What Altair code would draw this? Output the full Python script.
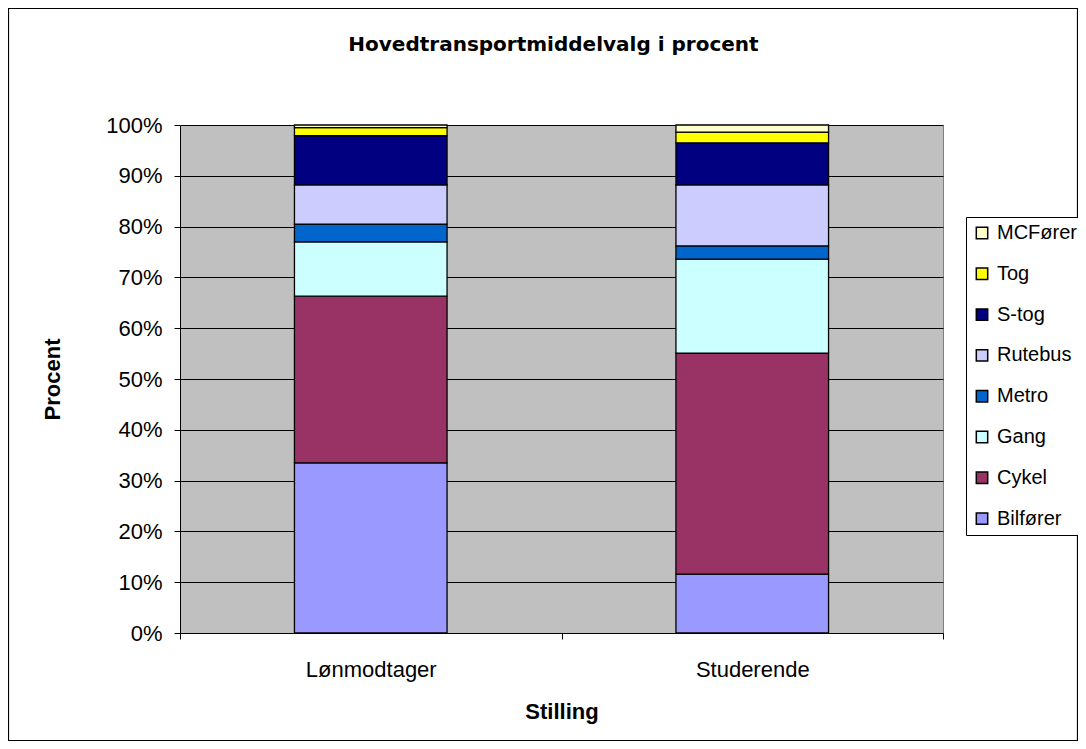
import altair as alt
import pandas as pd

# ---- data ----
categories = ["Lønmodtager", "Studerende"]
modes = ["Bilfører", "Cykel", "Gang", "Metro", "Rutebus", "S-tog", "Tog", "MCFører"]
lonmodtager = [33.5, 32.8, 10.7, 3.5, 7.7, 9.7, 1.6, 0.5]
studerende = [11.6, 43.5, 18.5, 2.6, 12.0, 8.3, 2.1, 1.4]
colors = ["#9999FF", "#993366", "#CCFFFF", "#0066CC", "#CCCCFF", "#000080", "#FFFF00", "#FFFFCC"]
y_ticks = [0, 10, 20, 30, 40, 50, 60, 70, 80, 90, 100]

rows = []
for cat, vals in zip(categories, [lonmodtager, studerende]):
    for i, (m, v) in enumerate(zip(modes, vals)):
        rows.append({"Stilling": cat, "Transportmiddel": m, "Procent": v, "rank": i})
df = pd.DataFrame(rows)

legend_order = modes[::-1]
legend_colors = colors[::-1]

W, H = 763, 508

bars = alt.Chart(df).mark_bar(
    stroke="black", strokeWidth=1.3, width=alt.RelativeBandSize(0.4)
).encode(
    x=alt.X(
        "Stilling:N", sort=categories,
        scale=alt.Scale(paddingInner=0, paddingOuter=0),
        axis=alt.Axis(
            title="Stilling", labelAngle=0, tickBand="extent", tickSize=6,
            labelPadding=20, titleX=W / 2, titleY=78, titleBaseline="middle",
            titleAlign="center",
        ),
    ),
    y=alt.Y(
        "Procent:Q", stack="zero",
        scale=alt.Scale(domain=[0, 100], nice=False),
        axis=alt.Axis(
            values=y_ticks, labelExpr="datum.value + '%'", title="Procent",
            grid=True, tickSize=6, labelPadding=12,
            titleX=-128, titleY=H / 2, titleAlign="center", titleBaseline="middle",
            titleAngle=-90,
        ),
    ),
    color=alt.Color(
        "Transportmiddel:N",
        scale=alt.Scale(domain=legend_order, range=legend_colors),
        legend=alt.Legend(
            title=None, orient="none", legendX=786, legendY=92, padding=6,
            strokeColor="black", fillColor="white", labelFont="Liberation Sans",
            labelFontSize=20, labelColor="black", symbolType="square",
            symbolSize=130, symbolStrokeColor="black", symbolStrokeWidth=1.5,
            rowPadding=20.8, labelOffset=5, cornerRadius=0,
        ),
    ),
    order=alt.Order("rank:Q", sort="ascending"),
)

frame = alt.Chart(pd.DataFrame({"k": [0]})).mark_rect(
    fillOpacity=0, stroke="black", strokeWidth=1.2
).encode(
    x=alt.value(-171.5), x2=alt.value(897.5), y=alt.value(-116.5), y2=alt.value(615.5)
)

chart = alt.layer(bars, frame).properties(
    width=W, height=H,
    autosize=alt.AutoSizeParams(type="none"),
    padding={"left": 172, "top": 117, "right": 135, "bottom": 108},
    title=alt.TitleParams(
        "Hovedtransportmiddelvalg i procent", anchor="middle", frame="group",
        font="DejaVu Sans", fontSize=20, fontWeight="bold", color="black",
        offset=-47, dx=-8,
    ),
).configure_view(
    fill="#C0C0C0", stroke="#808080", strokeWidth=1
).configure_axis(
    domainColor="black", tickColor="black", gridColor="black", gridWidth=1,
    labelFont="Liberation Sans", labelFontSize=22, labelColor="black",
    titleFont="Liberation Sans", titleFontSize=22, titleFontWeight="bold",
    titleColor="black",
)

chart.save("out.html", embed_options={"renderer": "svg", "actions": False})
